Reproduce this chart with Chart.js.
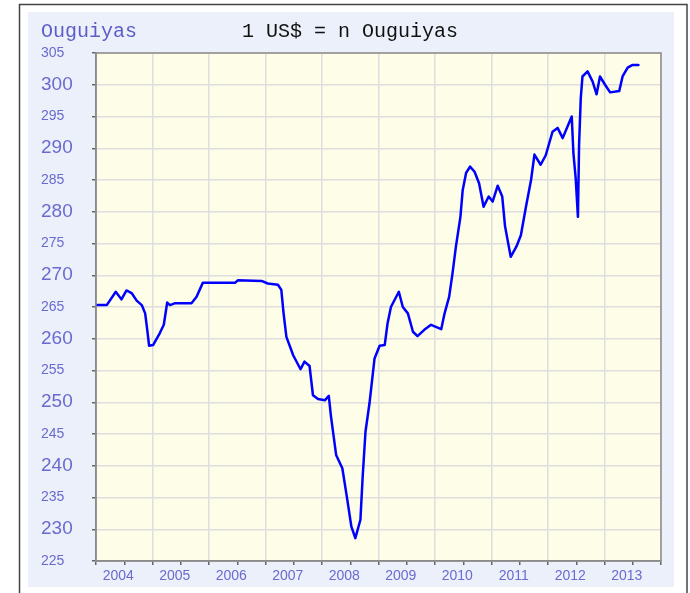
<!DOCTYPE html>
<html>
<head>
<meta charset="utf-8">
<script src="https://cdn.jsdelivr.net/npm/chart.js@4/dist/chart.umd.min.js"></script>
<style>
html,body{margin:0;padding:0;background:#fff;}
#wrap{position:relative;width:690px;height:593px;}
</style>
</head>
<body>
<div id="wrap"><canvas id="c" width="690" height="593"></canvas></div>
<script>
const years = [2004.01,2004.19,2004.35,2004.45,2004.54,2004.63,2004.72,2004.81,2004.87,2004.90,
  2004.94,2005.01,2005.13,2005.20,2005.26,2005.31,2005.40,2005.69,2005.78,2005.89,
  2006.46,2006.51,2006.93,2007.04,2007.22,2007.28,2007.32,2007.37,2007.49,2007.62,
  2007.69,2007.78,2007.84,2007.93,2008.05,2008.12,2008.16,2008.25,2008.36,2008.44,
  2008.52,2008.59,2008.68,2008.72,2008.77,2008.84,2008.93,2009.02,2009.11,2009.16,
  2009.22,2009.36,2009.43,2009.52,2009.61,2009.69,2009.81,2009.93,2010.11,2010.17,
  2010.25,2010.31,2010.37,2010.45,2010.49,2010.55,2010.62,2010.70,2010.78,2010.86,
  2010.95,2011.02,2011.11,2011.19,2011.24,2011.34,2011.44,2011.52,2011.61,2011.70,
  2011.76,2011.87,2011.96,2012.08,2012.17,2012.26,2012.42,2012.45,2012.49,2012.53,
  2012.55,2012.58,2012.61,2012.70,2012.79,2012.86,2012.92,2013.01,2013.10,2013.26,
  2013.32,2013.41,2013.49,2013.60];
const rates = [265.3,265.3,267.4,266.2,267.6,267.2,266.0,265.3,264.0,261.9,
  258.9,259.0,260.9,262.2,265.7,265.3,265.6,265.6,266.6,268.8,
  268.8,269.2,269.1,268.7,268.5,267.7,264.0,260.3,257.4,255.2,
  256.4,255.7,251.1,250.5,250.3,251.0,247.7,241.7,239.6,235.1,
  230.4,228.6,231.5,238.3,245.4,249.8,256.9,258.9,259.0,262.4,
  265.0,267.4,265.0,264.0,261.1,260.4,261.4,262.2,261.5,264.0,
  266.6,270.3,274.5,279.2,283.4,286.1,287.1,286.3,284.5,280.8,
  282.4,281.6,284.1,282.4,277.7,272.9,274.5,276.3,280.8,285.0,
  289.0,287.4,288.9,292.6,293.2,291.6,295.0,289.2,285.3,279.2,
  290.5,297.9,301.3,302.1,300.5,298.5,301.3,300.0,298.8,299.0,
  301.3,302.7,303.1,303.1];
const yearLabels = ['2004','2005','2006','2007','2008','2009','2010','2011','2012','2013'];
const titleText = '1 US$ = n Ouguiyas';
const unitText = 'Ouguiyas';
const yMin = 225, yMax = 305, yStep = 5;

const points = years.map((x, i) => ({x: x, y: rates[i]}));

const framePlugin = {
  id: 'frame',
  beforeDraw(chart) {
    const ctx = chart.ctx;
    const a = chart.chartArea;
    ctx.save();
    ctx.fillStyle = '#ffffff';
    ctx.fillRect(0, 0, chart.width, chart.height);
    ctx.fillStyle = '#ecf0fa';
    ctx.fillRect(28, 12, 646, 575);
    ctx.strokeStyle = '#444444';
    ctx.lineWidth = 1.5;
    ctx.strokeRect(19.5, 4.5, 667.5, 600);
    ctx.fillStyle = '#fdfde8';
    ctx.fillRect(a.left, a.top, a.right - a.left, a.bottom - a.top);
    ctx.restore();
  },
  afterDraw(chart) {
    const ctx = chart.ctx;
    const a = chart.chartArea;
    ctx.save();
    ctx.strokeStyle = '#8a8a8a';
    ctx.lineWidth = 1.5;
    ctx.strokeRect(a.left, a.top, a.right - a.left, a.bottom - a.top);
    ctx.textBaseline = 'alphabetic';
    ctx.textAlign = 'left';
    ctx.font = '20px "Liberation Mono", monospace';
    ctx.fillStyle = '#5d5dc8';
    ctx.fillText(unitText, 41, 37);
    ctx.fillStyle = '#111111';
    ctx.fillText(titleText, 242, 37);
    ctx.restore();
  }
};

new Chart(document.getElementById('c'), {
  type: 'line',
  data: {
    datasets: [{
      data: points,
      borderColor: '#0000ff',
      borderWidth: 2.5,
      pointRadius: 0,
      tension: 0,
      fill: false,
      borderJoinStyle: 'round',
      borderCapStyle: 'round'
    }]
  },
  options: {
    responsive: false,
    animation: false,
    layout: { padding: { left: 41, right: 29, top: 53, bottom: 0 } },
    plugins: { legend: { display: false }, tooltip: { enabled: false }, title: { display: false } },
    scales: {
      x: {
        type: 'linear',
        min: 2004,
        max: 2014,
        afterBuildTicks(scale) {
          const t = [];
          for (let v = 2004; v <= 2014.001; v += 0.5) t.push({ value: Math.round(v * 2) / 2 });
          scale.ticks = t;
        },
        afterFit(scale) { scale.height = 32; },
        grid: {
          color: ctx => (ctx.tick && ctx.tick.value % 1 === 0) ? '#dedede' : 'rgba(0,0,0,0)',
          lineWidth: 1.5,
          tickColor: '#666666',
          tickLength: 4,
          drawTicks: true
        },
        border: { display: true, color: '#8a8a8a', width: 1.5 },
        ticks: {
          autoSkip: false,
          maxRotation: 0,
          labelOffset: -6,
          padding: 3,
          color: '#6a6acf',
          font: { family: '"Liberation Sans", Arial, sans-serif', size: 14 },
          callback: v => (v % 1 === 0.5) ? yearLabels[Math.floor(v) - 2004] : ''
        }
      },
      y: {
        min: yMin,
        max: yMax,
        afterFit(scale) { scale.width = 55; },
        grid: {
          color: '#dedede',
          lineWidth: 1.5,
          tickColor: '#666666',
          tickLength: 4
        },
        border: { display: true, color: '#8a8a8a', width: 1.5 },
        ticks: {
          stepSize: yStep,
          crossAlign: 'far',
          color: '#6a6acf',
          font: ctx => ({ family: '"Liberation Sans", Arial, sans-serif', size: (ctx.tick && ctx.tick.value % 10 === 0) ? 19 : 14 })
        }
      }
    }
  },
  plugins: [framePlugin]
});
</script>
</body>
</html>
